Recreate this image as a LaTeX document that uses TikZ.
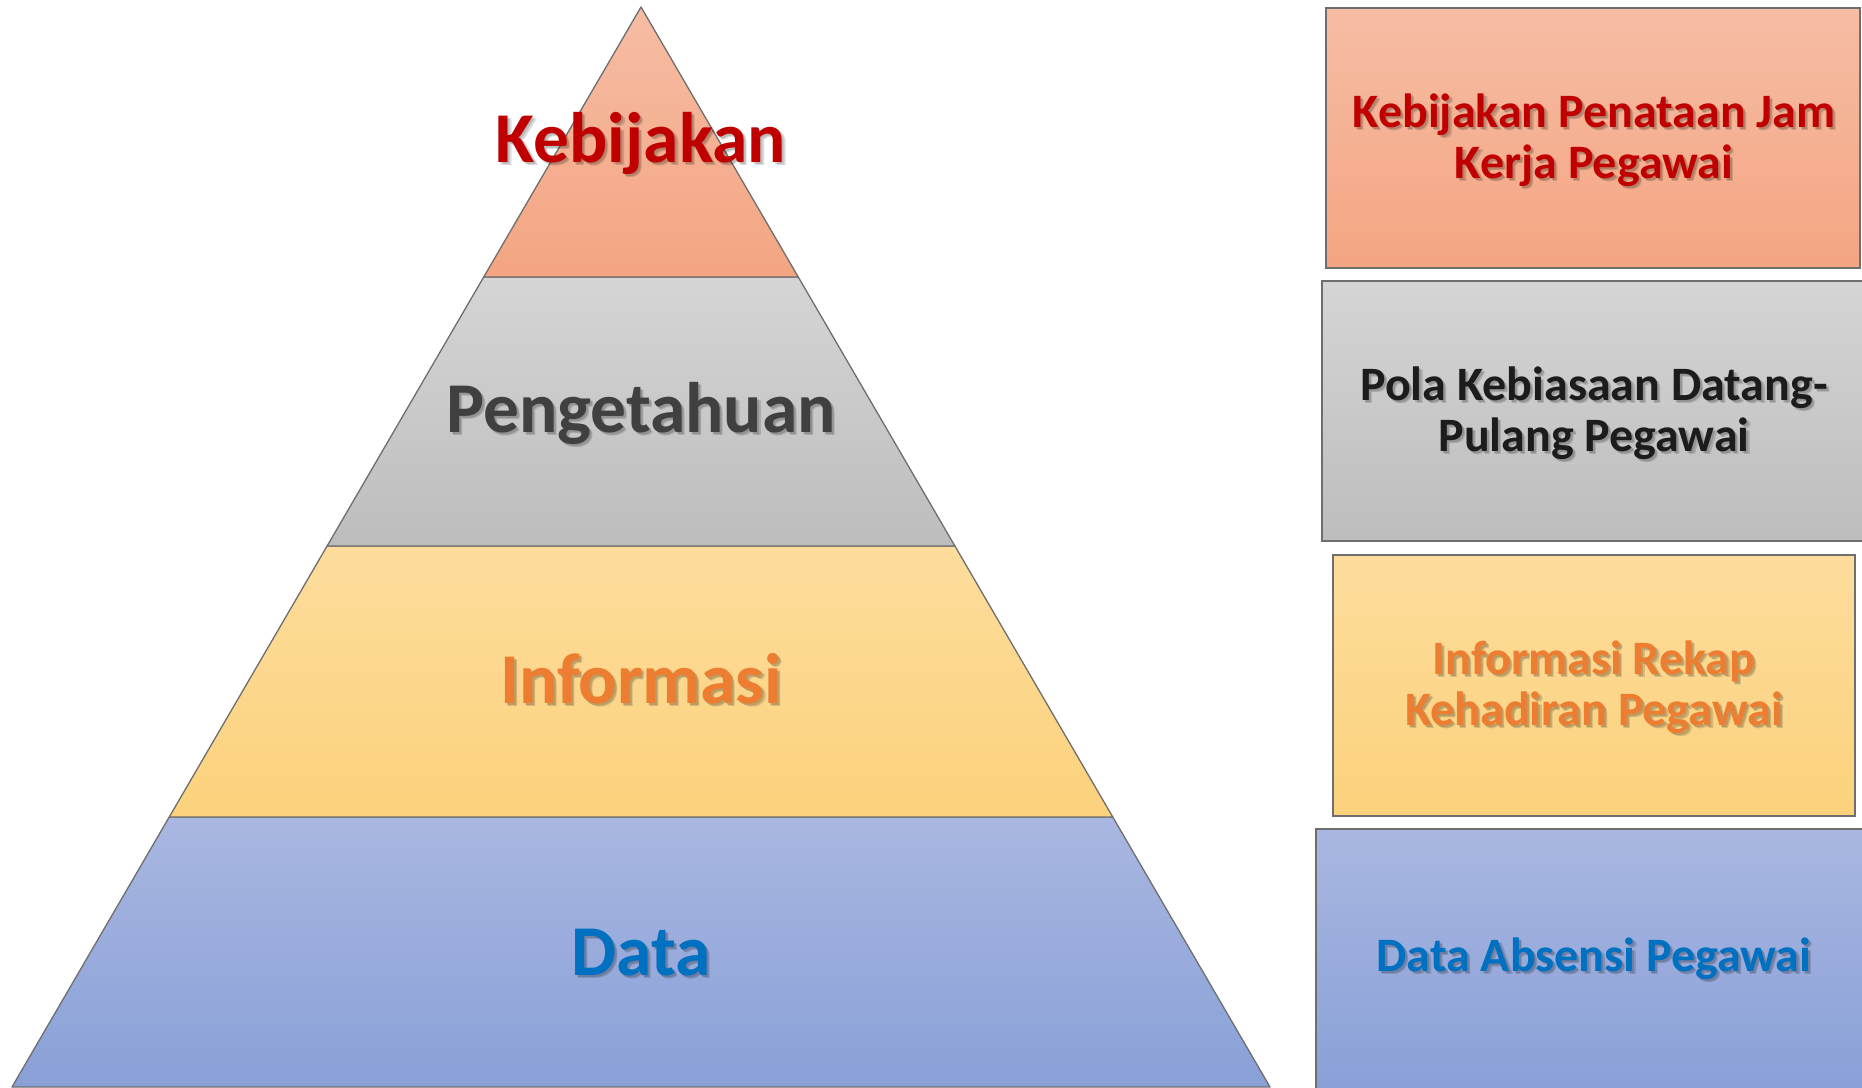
\documentclass[tikz,border=0pt]{standalone}
\usepackage{fontspec}
\setmainfont{Carlito}
\definecolor{lineC}{HTML}{6E6E6E}
\definecolor{salT}{HTML}{F6BDA4}
\definecolor{salB}{HTML}{F4A582}
\definecolor{grayT}{HTML}{D5D5D5}
\definecolor{grayB}{HTML}{BDBDBD}
\definecolor{yelT}{HTML}{FDDC9C}
\definecolor{yelB}{HTML}{FCD27C}
\definecolor{bluT}{HTML}{A9B7E1}
\definecolor{bluB}{HTML}{89A0D7}
\definecolor{redTx}{HTML}{C00000}
\definecolor{grayTx}{HTML}{404040}
\definecolor{blackTx}{HTML}{1C1C1C}
\definecolor{orgTx}{HTML}{ED7D31}
\definecolor{bluTx}{HTML}{0070C0}
\begin{document}
\begin{tikzpicture}[x=1pt,y=-1pt,
  layer/.style={draw=lineC, line width=1.3pt, line join=round},
  box/.style={draw=lineC, line width=1.3pt, inner sep=0pt},
  lbl/.style={font=\bfseries\fontsize{71.5}{82}\selectfont, anchor=base, inner sep=0pt},
  boxtxt/.style={font=\bfseries\fontsize{48}{51}\selectfont, align=center, inner sep=0pt},
  shdA/.style={text=black, opacity=0.14, xshift=2pt, yshift=-2pt},
  shdB/.style={text=black, opacity=0.14, xshift=3.2pt, yshift=-3.2pt}]
\useasboundingbox (0,0) rectangle (1862,1087);
\fill[white] (0,0) rectangle (1862,1087);
% pyramid layers
\shade[layer, top color=bluT, bottom color=bluB] (169.25,817) -- (1112.75,817) -- (1270,1087) -- (12,1087) -- cycle;
\shade[layer, top color=yelT, bottom color=yelB] (327.1,546) -- (954.9,546) -- (1112.75,817) -- (169.25,817) -- cycle;
\shade[layer, top color=grayT, bottom color=grayB] (483.75,277) -- (798.25,277) -- (954.9,546) -- (327.1,546) -- cycle;
\shade[layer, top color=salT, bottom color=salB] (641,7) -- (798.25,277) -- (483.75,277) -- cycle;
% pyramid labels
\node[lbl, shdA] (kebS) at (641,162) {Kebijakan};
\node[lbl, shdB] (kebT) at (641,162) {Kebijakan};
\node[lbl, text=redTx] (keb) at (641,162) {Kebijakan};
\node[lbl, shdA] (penS) at (641,432) {Pengetahuan};
\node[lbl, shdB] (penT) at (641,432) {Pengetahuan};
\node[lbl, text=grayTx] (pen) at (641,432) {Pengetahuan};
\node[lbl, shdA] (infS) at (641,703) {Informasi};
\node[lbl, shdB] (infT) at (641,703) {Informasi};
\node[lbl, text=orgTx] (inf) at (641,703) {Informasi};
\node[lbl, shdA] (datS) at (641,975) {Data};
\node[lbl, shdB] (datT) at (641,975) {Data};
\node[lbl, text=bluTx] (dat) at (641,975) {Data};
% right boxes
\node[box, top color=salT, bottom color=salB, minimum width=534pt, minimum height=260pt] (box1) at (1593,138) {};
\node[box, top color=grayT, bottom color=grayB, minimum width=548pt, minimum height=260pt] (box2) at (1596,411) {};
\node[box, top color=yelT, bottom color=yelB, minimum width=522pt, minimum height=261pt] (box3) at (1594,685.5) {};
\node[box, top color=bluT, bottom color=bluB, minimum width=556pt, minimum height=261pt] (box4) at (1594,959.5) {};
% box texts
\node[boxtxt, shdA] (t1S) at (1594,140) {Kebijakan Penataan Jam\\Kerja Pegawai};
\node[boxtxt, shdB] (t1T) at (1594,140) {Kebijakan Penataan Jam\\Kerja Pegawai};
\node[boxtxt, text=redTx] (t1) at (1594,140) {Kebijakan Penataan Jam\\Kerja Pegawai};
\node[boxtxt, shdA] (t2S) at (1594,413) {Pola Kebiasaan Datang-\\Pulang Pegawai};
\node[boxtxt, shdB] (t2T) at (1594,413) {Pola Kebiasaan Datang-\\Pulang Pegawai};
\node[boxtxt, text=blackTx] (t2) at (1594,413) {Pola Kebiasaan Datang-\\Pulang Pegawai};
\node[boxtxt, shdA] (t3S) at (1594,687) {Informasi Rekap\\Kehadiran Pegawai};
\node[boxtxt, shdB] (t3T) at (1594,687) {Informasi Rekap\\Kehadiran Pegawai};
\node[boxtxt, text=orgTx] (t3) at (1594,687) {Informasi Rekap\\Kehadiran Pegawai};
\node[boxtxt, shdA] (t4S) at (1594,959) {Data Absensi Pegawai};
\node[boxtxt, shdB] (t4T) at (1594,959) {Data Absensi Pegawai};
\node[boxtxt, text=bluTx] (t4) at (1594,959) {Data Absensi Pegawai};
\end{tikzpicture}
\end{document}
